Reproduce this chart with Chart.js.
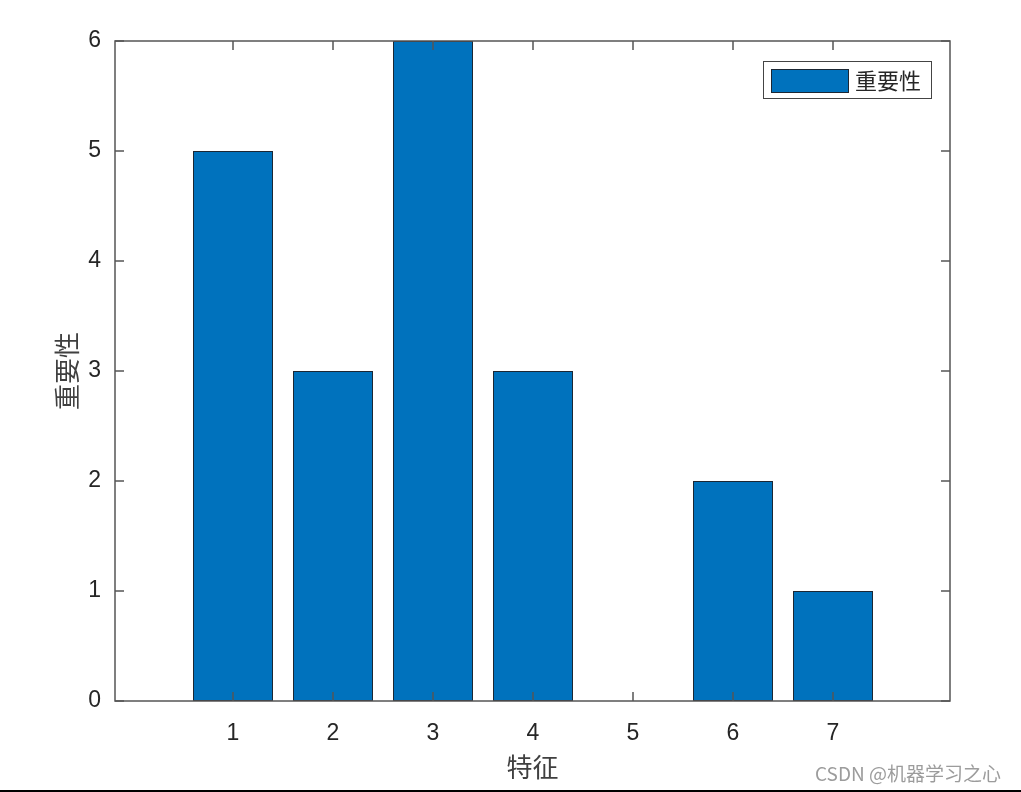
<!DOCTYPE html>
<html>
<head>
<meta charset="utf-8">
<script src="https://cdn.jsdelivr.net/npm/chart.js@4"></script>
<style>
  html, body { margin: 0; padding: 0; background: #fff; }
  #wrap { position: relative; width: 1021px; height: 792px; overflow: hidden; }
  #mark { position: absolute; left: 815px; top: 762px; font-family: "Noto Sans CJK SC"; font-size: 19px; line-height: 22px; color: #9c9c9c; white-space: nowrap; }
  #rule { position: absolute; left: 0; top: 790px; width: 1021px; height: 2px; background: #000; }
</style>
</head>
<body>
<div id="wrap">
  <canvas id="c" width="1021" height="792"></canvas>
  <div id="mark">CSDN @机器学习之心</div>
  <div id="rule"></div>
</div>
<script>
// data
const features = [1, 2, 3, 4, 5, 6, 7];
const importance = [5, 3, 6, 3, 0, 2, 1];
const yTicks = [0, 1, 2, 3, 4, 5, 6];
const seriesName = '重要性';
const xTitle = '特征';
const yTitle = '重要性';

const axisColor = '#555';
const textColor = '#262626';
const cjk = '"Noto Sans CJK SC"';

// box, inward ticks on all four sides, legend inside the axes
const frame = {
  id: 'frame',
  afterDatasetsDraw(chart) {
    const { ctx, chartArea: a, scales: { x, y } } = chart;
    ctx.save();
    ctx.strokeStyle = axisColor;
    ctx.lineWidth = 1.5;
    ctx.strokeRect(a.left, a.top, a.right - a.left, a.bottom - a.top);

    ctx.beginPath();
    features.forEach(v => {
      const px = x.getPixelForValue(v);
      ctx.moveTo(px, a.bottom); ctx.lineTo(px, a.bottom - 9);
      ctx.moveTo(px, a.top); ctx.lineTo(px, a.top + 9);
    });
    yTicks.forEach(v => {
      const py = y.getPixelForValue(v);
      ctx.moveTo(a.left, py); ctx.lineTo(a.left + 9, py);
      ctx.moveTo(a.right, py); ctx.lineTo(a.right - 9, py);
    });
    ctx.stroke();

    // legend box
    const ds = chart.data.datasets[0];
    const bx = a.right - 187, by = a.top + 20, bw = 168, bh = 37;
    ctx.fillStyle = '#fff';
    ctx.fillRect(bx, by, bw, bh);
    ctx.lineWidth = 1;
    ctx.strokeStyle = '#444';
    ctx.strokeRect(bx + 0.5, by + 0.5, bw, bh);
    ctx.fillStyle = ds.backgroundColor;
    ctx.fillRect(bx + 8, by + 8, 77, 23);
    ctx.strokeStyle = ds.borderColor;
    ctx.strokeRect(bx + 8.5, by + 8.5, 77, 23);
    ctx.fillStyle = textColor;
    ctx.font = '22px ' + cjk;
    ctx.textBaseline = 'middle';
    ctx.fillText(ds.label, bx + 92, by + 20);
    ctx.restore();
  }
};

new Chart(document.getElementById('c'), {
  type: 'bar',
  data: {
    datasets: [{
      label: seriesName,
      data: features.map((f, i) => ({ x: f, y: importance[i] })),
      backgroundColor: '#0072BD',
      borderColor: '#1c2733',
      borderWidth: 1,
      borderSkipped: false,
      barPercentage: 0.8,
      categoryPercentage: 1
    }]
  },
  options: {
    responsive: false,
    animation: false,
    devicePixelRatio: 1,
    layout: { padding: { left: 0, top: 41, right: 71, bottom: 0 } },
    plugins: { legend: { display: false }, tooltip: { enabled: false } },
    scales: {
      x: {
        type: 'linear',
        offset: false,
        min: -0.18,
        max: 8.17,
        grid: { display: false },
        border: { display: false },
        afterBuildTicks: s => { s.ticks = features.map(v => ({ value: v })); },
        afterFit: s => { s.height = 91; },
        ticks: {
          padding: 11,
          maxRotation: 0,
          autoSkip: false,
          color: textColor,
          font: { family: '"Liberation Sans"', size: 23 }
        },
        title: {
          display: true,
          text: xTitle,
          color: '#404040',
          font: { family: cjk, size: 26 },
          padding: { top: 0, bottom: 9 }
        }
      },
      y: {
        min: 0,
        max: 6,
        grid: { display: false },
        border: { display: false },
        afterBuildTicks: s => { s.ticks = yTicks.map(v => ({ value: v })); },
        afterFit: s => { s.width = 115; },
        ticks: {
          padding: 6,
          color: textColor,
          font: { family: '"Liberation Sans"', size: 23 }
        },
        title: {
          display: true,
          text: yTitle,
          color: '#404040',
          font: { family: cjk, size: 26 },
          padding: { top: 52, bottom: 0 }
        }
      }
    }
  },
  plugins: [frame]
});
</script>
</body>
</html>
